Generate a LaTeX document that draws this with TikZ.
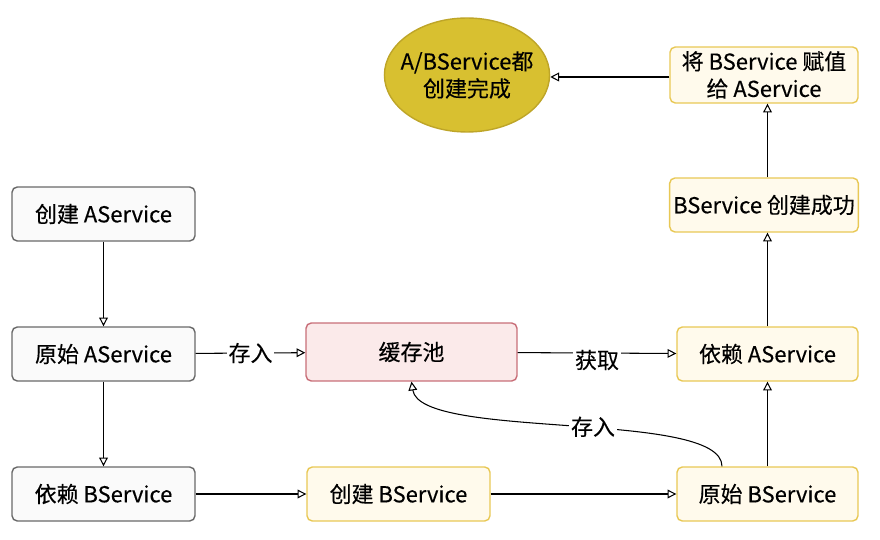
\documentclass[tikz,border=0pt]{standalone}
\usepackage{fontspec}
\setmainfont{Noto Sans CJK SC}[FakeBold=0.3]
\usepackage{xcolor}
\usetikzlibrary{arrows.meta, shapes.geometric}
\definecolor{grayline}{RGB}{105,105,105}
\definecolor{grayfill}{RGB}{250,250,250}
\definecolor{yelline}{RGB}{232,200,85}
\definecolor{yelfill}{RGB}{255,250,236}
\definecolor{redline}{RGB}{200,110,120}
\definecolor{redfill}{RGB}{251,234,234}
\definecolor{ellfill}{RGB}{216,192,48}
\definecolor{elline}{RGB}{190,165,40}

\begin{document}
\begin{tikzpicture}[x=0.02cm, y=-0.02cm,
  box/.style={draw, rounded corners=3pt, line width=0.8pt, minimum width=3.66cm,
              minimum height=1.08cm, inner sep=2pt, align=center,
              font=\fontsize{12.5}{15.5}\selectfont},
  graybox/.style={box, draw=grayline, fill=grayfill},
  yelbox/.style={box, draw=yelline, fill=yelfill},
  redbox/.style={box, draw=redline, fill=redfill},
  arr/.style={-{Triangle[open, length=5pt, width=5pt]}, line width=0.6pt},
  lbl/.style={fill=white, inner sep=1pt, font=\fontsize{12.5}{15.5}\selectfont}
]
  \useasboundingbox (0,0) rectangle (880,540);

  % A side
  \node[graybox] (createA) at (103.5,214) {创建 AService};
  \node[graybox] (rawA) at (103.5,354) {原始 AService};
  \node[graybox] (needB) at (103.5,494) {依赖 BService};

  % Cache
  \node[redbox, minimum width=4.22cm, minimum height=1.16cm] (cache) at (411.5,352) {缓存池};

  % B side
  \node[yelbox] (createB) at (398.5,494) {创建 BService};
  \node[yelbox, minimum width=3.62cm] (rawB) at (767.5,494) {原始 BService};
  \node[yelbox, minimum width=3.62cm] (needA) at (767.5,354) {依赖 AService};
  \node[yelbox, minimum width=3.76cm] (doneB) at (764,205) {BService 创建成功};
  \node[yelbox, minimum width=3.76cm, minimum height=1.12cm] (assign) at (764,75)
    {将 BService 赋值\\给 AService};

  % Result
  \node[ellipse, draw=elline, fill=ellfill, line width=0.8pt, minimum width=3.18cm,
        minimum height=2.28cm, inner sep=-0.16cm, align=center,
        font=\fontsize{12.5}{15.5}\selectfont] (done) at (467,75) {A/BService都\\创建完成};

  % Connectors
  \draw[arr] (createA) -- (rawA);
  \draw[arr] (rawA) -- (needB);
  \draw[arr] (rawA) -- node[lbl] {存入} (cache);
  \draw[arr] (cache) -- node[lbl, yshift=-0.14cm] {获取} (needA);
  \draw[arr] (needB) -- (createB);
  \draw[arr] (createB) -- (rawB);
  \draw[arr] (rawB) -- (needA);
  \draw[arr] (needA.north) -- (needA.north |- doneB.south);
  \draw[arr] (doneB.north -| needA.north) -- (needA.north |- assign.south);
  \draw[arr] ([yshift=-0.04cm]assign.west) -- ([yshift=-0.04cm]assign.west -| done.east);
  \draw[arr] ([xshift=-0.91cm]rawB.north) .. controls +(0,-57) and +(9,59) ..
    node[lbl, pos=0.45] {存入} (cache.south);
\end{tikzpicture}
\end{document}
